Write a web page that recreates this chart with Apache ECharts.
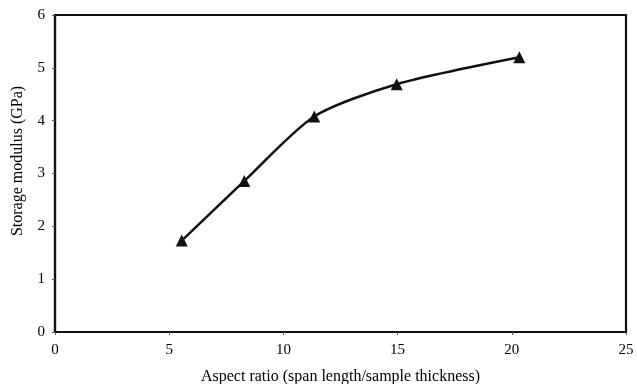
<!DOCTYPE html>
<html><head><meta charset="utf-8">
<script src="https://cdn.jsdelivr.net/npm/echarts@6/dist/echarts.min.js"></script>
<style>html,body{margin:0;padding:0;background:#fff}#c{width:637px;height:384px}</style>
</head><body><div id="c"></div>
<script>
const aspectRatio = [5.55, 8.29, 11.35, 14.96, 20.33];
const storageModulus = [1.73, 2.86, 4.08, 4.69, 5.20];
const xTicks = [0, 5, 10, 15, 20, 25];
const yTicks = [0, 1, 2, 3, 4, 5, 6];
const data = aspectRatio.map((x, i) => [x, storageModulus[i]]);
const font = '"Liberation Serif", "DejaVu Serif", serif';
const chart = echarts.init(document.getElementById('c'), null, {renderer: 'canvas'});
chart.setOption({
  animation: false,
  backgroundColor: '#fff',
  grid: {left: 55, right: 11, top: 15, bottom: 52, containLabel: false, outerBoundsMode: 'none',
         show: true, borderColor: '#111', borderWidth: 2.2, backgroundColor: 'transparent'},
  xAxis: {
    type: 'value', min: xTicks[0], max: xTicks[xTicks.length - 1], interval: 5,
    name: 'Aspect ratio (span length/sample thickness)', nameLocation: 'middle', nameGap: 37,
    nameTextStyle: {fontFamily: font, fontSize: 16, color: '#000'},
    axisLine: {show: true, lineStyle: {color: '#111', width: 2.2}},
    axisTick: {show: true, length: 3, lineStyle: {color: '#555'}},
    axisLabel: {fontFamily: font, fontSize: 15, color: '#000', margin: 11},
    splitLine: {show: false}
  },
  yAxis: {
    type: 'value', min: yTicks[0], max: yTicks[yTicks.length - 1], interval: 1,
    name: 'Storage modulus (GPa)', nameLocation: 'middle', nameGap: 29,
    nameTextStyle: {fontFamily: font, fontSize: 16, color: '#000', padding: [0, 0, 0, 25]},
    axisLine: {show: true, lineStyle: {color: '#111', width: 2.2}},
    axisTick: {show: true, length: 3, lineStyle: {color: '#555'}},
    axisLabel: {fontFamily: font, fontSize: 15, color: '#000', margin: 10},
    splitLine: {show: false}
  },
  series: [{
    type: 'line', data: data, smooth: 0.25,
    symbol: 'triangle', symbolSize: 12,
    lineStyle: {color: '#111', width: 2.5},
    itemStyle: {color: '#111'}
  }]
});
</script></body></html>
